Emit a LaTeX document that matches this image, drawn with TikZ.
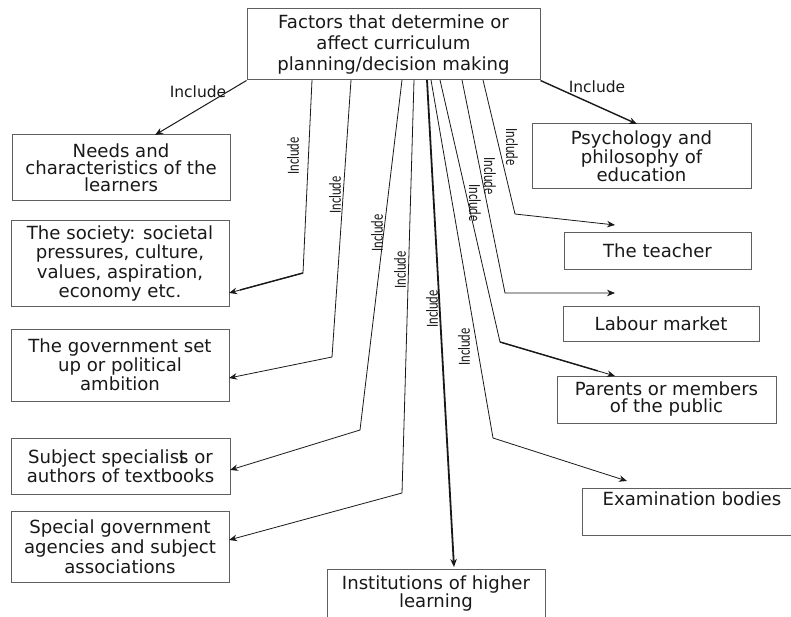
\documentclass[tikz,border=0pt]{standalone}
\usepackage{fontspec}
\setmainfont{DejaVu Sans}
\newfontfamily\narrowfont{Carlito}
\usetikzlibrary{arrows.meta,calc}
\definecolor{boxgray}{RGB}{95,95,95}
\definecolor{ink}{RGB}{25,25,25}

\begin{document}
\begin{tikzpicture}[x=1pt,y=-1pt,
  every node/.style={text=ink},
  box/.style={draw=boxgray, line width=1pt, inner sep=0pt, align=center,
              font=\fontsize{18.1}{19}\selectfont},
  conn/.style={draw=ink, line width=0.8pt, -{Stealth[length=8pt,width=6.5pt]}},
  heavy/.style={line width=1.4pt},
  toplabel/.style={inner sep=0pt, font=\fontsize{15.5}{15.5}\selectfont},
  sidelabel/.style={inner sep=0pt, font=\narrowfont\fontsize{17}{17}\selectfont}
]
\useasboundingbox[fill=white] (0,0) rectangle (791,617);

% central box
\node[box, minimum width=293, minimum height=71, font=\fontsize{18.1}{21}\selectfont]
  (main) at (393.5,44.5) {Factors that determine or\\affect curriculum\\planning/decision making};

% left column
\node[box, minimum width=218, minimum height=66, font=\fontsize{18.1}{16.8}\selectfont]
  (needs) at (121,168) {Needs and\\characteristics of the\\learners};
\node[box, minimum width=218, minimum height=85, font=\fontsize{18.1}{19.6}\selectfont]
  (society) at (120,263.5) {The society: societal\\pressures, culture,\\values, aspiration,\\economy etc.};
\node[box, minimum width=218, minimum height=72, font=\fontsize{18.1}{19}\selectfont]
  (govt) at (120,365) {The government set\\up or political\\ambition};
\node[box, minimum width=219, minimum height=56, font=\fontsize{18.1}{19}\selectfont]
  (subject) at (120.5,466) {Subject specialis\rlap{t}s or\\authors of textbooks};
\node[box, minimum width=218, minimum height=71, font=\fontsize{18.1}{20}\selectfont]
  (special) at (120,546.5) {Special government\\agencies and subject\\associations};

% bottom
\node[box, minimum width=218, minimum height=49, font=\fontsize{18.1}{17}\selectfont]
  (inst) at (436,593.5) {Institutions of higher\\learning};

% right column
\node[box, minimum width=219, minimum height=65, font=\fontsize{18.1}{17.5}\selectfont]
  (psych) at (641.5,156.5) {Psychology and\\philosophy of\\education};
\node[box, minimum width=187, minimum height=36]
  (teacher) at (657.5,251) {The teacher};
\node[box, minimum width=196, minimum height=35]
  (labour) at (661,323.5) {Labour market};
\node[box, minimum width=219, minimum height=47, font=\fontsize{18.1}{17}\selectfont]
  (parents) at (666.5,399.5) {Parents or members\\of the public};
\node[box, minimum width=220, minimum height=47, font=\fontsize{18.1}{20}\selectfont]
  (exam) at (692,511.5) {Examination bodies\\\strut};

% start points along the bottom of the central box
\coordinate (sSoc)     at (312,80);
\coordinate (sGov)     at (351,80);
\coordinate (sSub)     at (402,80);
\coordinate (sSpec)    at (414,80);
\coordinate (sInst)    at (427,80);
\coordinate (sExam)    at (431,80);
\coordinate (sPar)     at (440,80);
\coordinate (sLab)     at (462,80);
\coordinate (sTeach)   at (483,80);

% bends
\coordinate (bSoc)   at (303,273);
\coordinate (bGov)   at (332,357);
\coordinate (bSub)   at (360,430);
\coordinate (bSpec)  at (402,493);
\coordinate (bExam)  at (493,438);
\coordinate (bPar)   at (500,342);
\coordinate (bLab)   at (505,293);
\coordinate (bTeach) at (515,214);

% arrow ends
\coordinate (tNeeds) at (155,135);
\coordinate (tPsych) at (637,124);
\coordinate (tSoc)   at (229,293);
\coordinate (tGov)   at (229,378);
\coordinate (tSub)   at (230,470);
\coordinate (tSpec)  at (229,540);
\coordinate (tInst)  at (454,567);
\coordinate (tExam)  at (627,481);
\coordinate (tPar)   at (615,376);
\coordinate (tLab)   at (615,293);
\coordinate (tTeach) at (615,225);

% connectors
\draw[conn, line width=1pt] (main.south west) -- (tNeeds);
\draw[conn, heavy] (main.south east) -- (tPsych);
\draw[conn] (sSoc) -- (bSoc) -- (tSoc);
\draw[line width=1.4pt, ink] (bSoc) -- ($(bSoc)!0.85!(tSoc)$);
\draw[conn] (sGov) -- (bGov) -- (tGov);
\draw[conn] (sSub) -- (bSub) -- (tSub);
\draw[conn] (sSpec) -- (bSpec) -- (tSpec);
\draw[conn, line width=1.8pt] (sInst) -- (tInst);
\draw[conn] (sExam) -- (bExam) -- (tExam);
\draw[conn] (sPar) -- (bPar) -- (tPar);
\draw[line width=1.4pt, ink] (bPar) -- ($(bPar)!0.85!(tPar)$);
\draw[conn] (sLab) -- (bLab) -- (tLab);
\draw[conn] (sTeach) -- (bTeach) -- (tTeach);

% connector labels
\node[toplabel] (lNeeds) at (198,92) {Include};
\node[toplabel] (lPsych) at (597,87) {Include};
\node[sidelabel, rotate=90]  (lSoc)   at (293,156) {\scalebox{0.74}[1]{Include}};
\node[sidelabel, rotate=90]  (lGov)   at (335,195) {\scalebox{0.74}[1]{Include}};
\node[sidelabel, rotate=90]  (lSub)   at (377,233) {\scalebox{0.74}[1]{Include}};
\node[sidelabel, rotate=90]  (lSpec)  at (400,270) {\scalebox{0.74}[1]{Include}};
\node[sidelabel, rotate=90]  (lInst)  at (432,309) {\scalebox{0.74}[1]{Include}};
\node[sidelabel, rotate=90]  (lExam)  at (464,347) {\scalebox{0.74}[1]{Include}};
\node[sidelabel, rotate=-90] (lPar)   at (475,203) {\scalebox{0.74}[1]{Include}};
\node[sidelabel, rotate=-90] (lLab)   at (490,176) {\scalebox{0.74}[1]{Include}};
\node[sidelabel, rotate=-90] (lTeach) at (512,147) {\scalebox{0.74}[1]{Include}};
\end{tikzpicture}
\end{document}
